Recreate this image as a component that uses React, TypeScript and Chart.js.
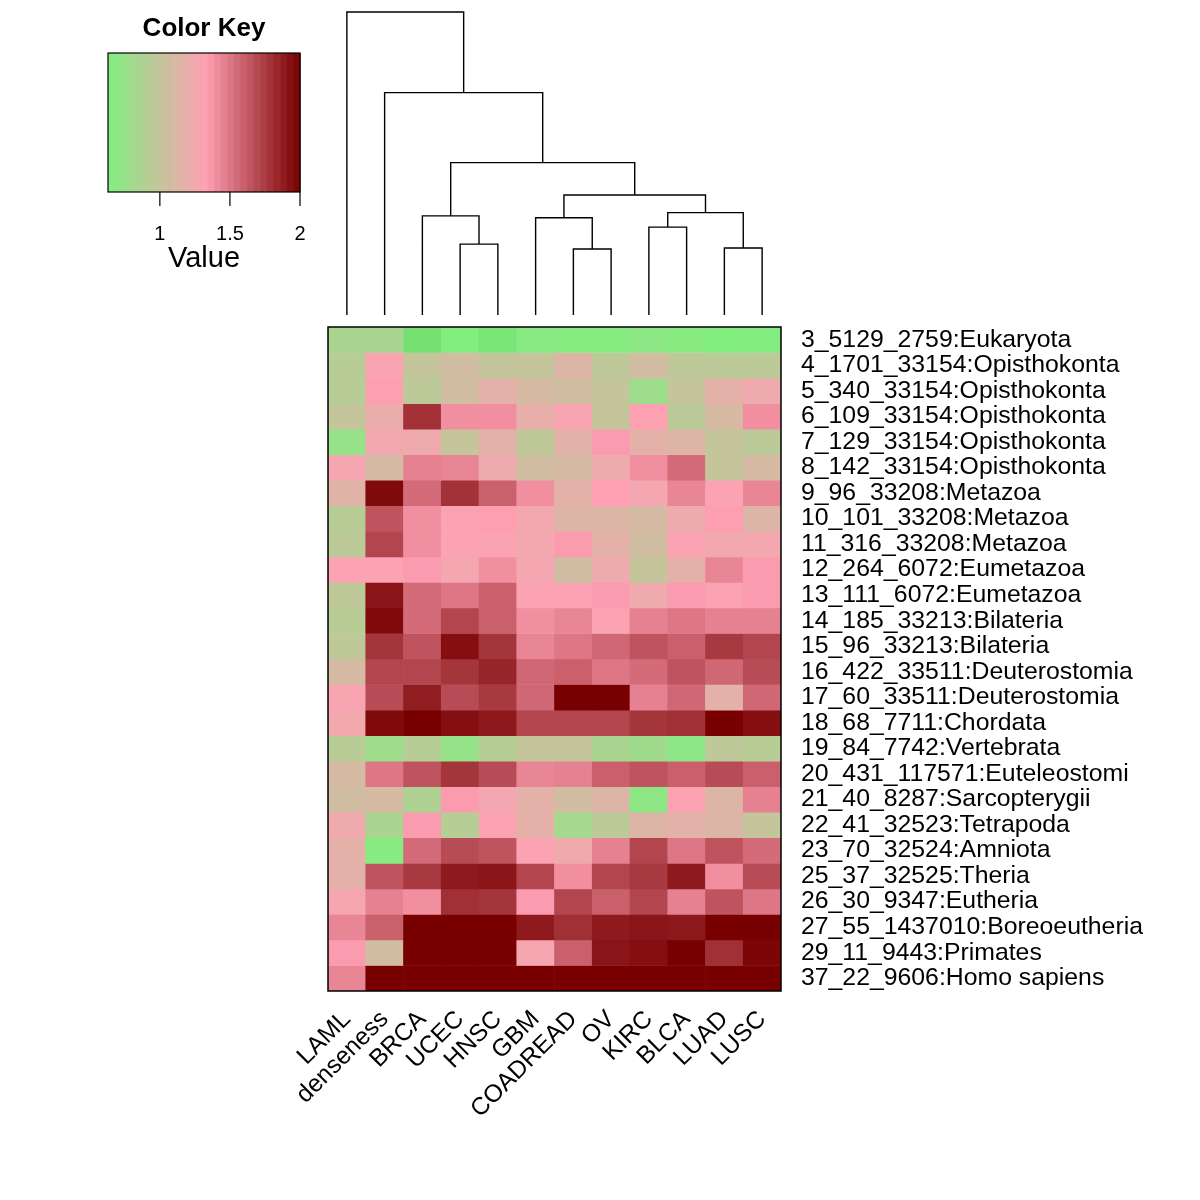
import React, { useEffect, useRef } from "react";
import { Chart, registerables } from "chart.js";

Chart.register(...registerables);

const columns = ["LAML", "denseness", "BRCA", "UCEC", "HNSC", "GBM", "COADREAD", "OV", "KIRC", "BLCA", "LUAD", "LUSC"];

const rowLabels = [
  "3_5129_2759:Eukaryota",
  "4_1701_33154:Opisthokonta",
  "5_340_33154:Opisthokonta",
  "6_109_33154:Opisthokonta",
  "7_129_33154:Opisthokonta",
  "8_142_33154:Opisthokonta",
  "9_96_33208:Metazoa",
  "10_101_33208:Metazoa",
  "11_316_33208:Metazoa",
  "12_264_6072:Eumetazoa",
  "13_111_6072:Eumetazoa",
  "14_185_33213:Bilateria",
  "15_96_33213:Bilateria",
  "16_422_33511:Deuterostomia",
  "17_60_33511:Deuterostomia",
  "18_68_7711:Chordata",
  "19_84_7742:Vertebrata",
  "20_431_117571:Euteleostomi",
  "21_40_8287:Sarcopterygii",
  "22_41_32523:Tetrapoda",
  "23_70_32524:Amniota",
  "25_37_32525:Theria",
  "26_30_9347:Eutheria",
  "27_55_1437010:Boreoeutheria",
  "29_11_9443:Primates",
  "37_22_9606:Homo sapiens",
];

// values per column, one entry per row (top to bottom)
const LAML = [0.85, 0.93, 0.93, 1.0, 0.74, 1.27, 1.15, 0.93, 0.95, 1.31, 0.97, 0.93, 0.97, 1.1, 1.29, 1.25, 0.93, 1.1, 1.07, 1.24, 1.18, 1.18, 1.28, 1.44, 1.35, 1.44];
const denseness = [0.85, 1.3, 1.34, 1.22, 1.26, 1.1, 1.96, 1.65, 1.71, 1.31, 1.91, 1.96, 1.78, 1.71, 1.68, 1.96, 0.78, 1.5, 1.1, 0.85, 0.65, 1.65, 1.46, 1.6, 1.07, 2.0];
const BRCA = [0.58, 1.0, 0.95, 1.79, 1.24, 1.46, 1.55, 1.4, 1.4, 1.35, 1.55, 1.55, 1.65, 1.71, 1.88, 2.0, 0.92, 1.65, 0.88, 1.35, 1.55, 1.76, 1.4, 2.0, 2.0, 2.0];
const UCEC = [0.63, 1.07, 1.07, 1.4, 1.0, 1.44, 1.79, 1.31, 1.31, 1.27, 1.5, 1.71, 1.94, 1.78, 1.68, 1.94, 0.74, 1.78, 1.35, 0.92, 1.68, 1.89, 1.8, 2.0, 2.0, 2.0];
const HNSC = [0.6, 1.0, 1.18, 1.4, 1.18, 1.24, 1.6, 1.34, 1.31, 1.4, 1.6, 1.6, 1.78, 1.85, 1.76, 1.9, 0.92, 1.68, 1.27, 1.31, 1.65, 1.91, 1.78, 2.0, 2.0, 2.0];
const GBM = [0.67, 1.0, 1.1, 1.2, 0.97, 1.07, 1.4, 1.26, 1.26, 1.27, 1.31, 1.4, 1.44, 1.57, 1.57, 1.71, 1.0, 1.44, 1.18, 1.18, 1.31, 1.71, 1.35, 1.89, 1.27, 2.0];
const COADREAD = [0.65, 1.14, 1.07, 1.29, 1.17, 1.1, 1.18, 1.14, 1.35, 1.07, 1.31, 1.44, 1.5, 1.6, 2.0, 1.71, 1.0, 1.46, 1.07, 0.83, 1.24, 1.4, 1.71, 1.8, 1.6, 2.0];
const OV = [0.65, 0.97, 1.0, 1.0, 1.35, 1.24, 1.33, 1.14, 1.18, 1.24, 1.35, 1.31, 1.57, 1.5, 2.0, 1.71, 0.85, 1.6, 1.14, 0.95, 1.46, 1.71, 1.6, 1.89, 1.91, 2.0];
const KIRC = [0.69, 1.07, 0.78, 1.32, 1.18, 1.4, 1.27, 1.1, 1.07, 1.0, 1.24, 1.46, 1.65, 1.55, 1.46, 1.78, 0.8, 1.65, 0.7, 1.14, 1.71, 1.76, 1.71, 1.91, 1.94, 2.0];
const BLCA = [0.66, 0.97, 1.0, 0.95, 1.14, 1.55, 1.44, 1.24, 1.31, 1.18, 1.35, 1.5, 1.6, 1.65, 1.57, 1.8, 0.7, 1.6, 1.31, 1.18, 1.5, 1.89, 1.46, 1.9, 2.0, 2.0];
const LUAD = [0.63, 0.95, 1.18, 1.1, 1.0, 1.0, 1.31, 1.34, 1.26, 1.44, 1.31, 1.46, 1.76, 1.57, 1.18, 2.0, 0.97, 1.68, 1.14, 1.14, 1.65, 1.4, 1.65, 2.0, 1.8, 2.0];
const LUSC = [0.64, 0.95, 1.24, 1.4, 0.95, 1.1, 1.44, 1.14, 1.26, 1.35, 1.35, 1.46, 1.71, 1.68, 1.57, 1.94, 0.93, 1.6, 1.46, 1.0, 1.55, 1.68, 1.5, 2.0, 1.98, 2.0];

const columnValues = [LAML, denseness, BRCA, UCEC, HNSC, GBM, COADREAD, OV, KIRC, BLCA, LUAD, LUSC];

// colour key
const keyMin = 0.63;
const keyMax = 2.0;
const keyTicks = [1, 1.5, 2];
const keyBins = 29;

// column dendrogram: [left, right, height]; numbers = leaf column index, "cN" = merge N
const dendroMerges: [number | string, number | string, number][] = [
  [3, 4, 2.34],
  [6, 7, 2.18],
  [8, 9, 2.9],
  [10, 11, 2.21],
  [2, "c0", 3.27],
  [5, "c1", 3.21],
  ["c2", "c3", 3.38],
  ["c5", "c6", 3.96],
  ["c4", "c7", 5.03],
  [1, "c8", 7.34],
  [0, "c9", 10],
];
const dendroMaxHeight = 10;

const FONT = "'Liberation Sans', Arial, Helvetica, sans-serif";

const colorStops: [number, number[]][] = [
  [0.55, [112, 216, 108]],
  [0.63, [130, 238, 128]],
  [1.33, [255, 160, 180]],
  [2.0, [120, 0, 0]],
];

function valueColor(v: number): string {
  if (v <= colorStops[0][0]) {
    const c = colorStops[0][1];
    return `rgb(${c[0]},${c[1]},${c[2]})`;
  }
  for (let i = 1; i < colorStops.length; i++) {
    const [v1, c1] = colorStops[i];
    const [v0, c0] = colorStops[i - 1];
    if (v <= v1) {
      const t = (v - v0) / (v1 - v0);
      const c = c0.map((a, k) => Math.round(a + (c1[k] - a) * t));
      return `rgb(${c[0]},${c[1]},${c[2]})`;
    }
  }
  const c = colorStops[colorStops.length - 1][1];
  return `rgb(${c[0]},${c[1]},${c[2]})`;
}

const decorPlugin = {
  id: "heatmapDecor",
  afterDraw(chart: any) {
    const ctx = chart.ctx as CanvasRenderingContext2D;
    const area = chart.chartArea;
    const xs = chart.scales.x;
    ctx.save();

    // heatmap border
    ctx.strokeStyle = "#000";
    ctx.lineWidth = 1.5;
    ctx.strokeRect(area.left, area.top, area.right - area.left, area.bottom - area.top);

    // dendrogram
    const base = area.top - 12;
    const topY = 12;
    const hy = (h: number) => base - (h / dendroMaxHeight) * (base - topY);
    const nodes: Record<string, { x: number; h: number }> = {};
    const get = (id: number | string) =>
      typeof id === "number" ? { x: xs.getPixelForValue(id), h: 0 } : nodes[id];
    ctx.lineWidth = 1.4;
    ctx.beginPath();
    dendroMerges.forEach(([a, b, h], i) => {
      const A = get(a);
      const B = get(b);
      const y = hy(h);
      ctx.moveTo(A.x, hy(A.h));
      ctx.lineTo(A.x, y);
      ctx.lineTo(B.x, y);
      ctx.lineTo(B.x, hy(B.h));
      nodes["c" + i] = { x: (A.x + B.x) / 2, h };
    });
    ctx.stroke();

    // colour key
    const kl = 108, kr = 300, kt = 53, kb = 192;
    const kx = (v: number) => kl + ((v - keyMin) / (keyMax - keyMin)) * (kr - kl);
    const step = (keyMax - keyMin) / keyBins;
    for (let i = 0; i < keyBins; i++) {
      const v0 = keyMin + i * step;
      const x0 = kx(v0);
      const x1 = kx(v0 + step);
      ctx.fillStyle = valueColor(v0 + step / 2);
      ctx.fillRect(x0, kt, x1 - x0 + 0.6, kb - kt);
    }
    ctx.strokeStyle = "#000";
    ctx.lineWidth = 1.2;
    ctx.strokeRect(kl, kt, kr - kl, kb - kt);
    ctx.beginPath();
    keyTicks.forEach((t) => {
      ctx.moveTo(kx(t), kb);
      ctx.lineTo(kx(t), kb + 14);
    });
    ctx.stroke();
    ctx.fillStyle = "#000";
    ctx.textAlign = "center";
    ctx.textBaseline = "middle";
    ctx.font = `20px ${FONT}`;
    keyTicks.forEach((t) => ctx.fillText(String(t), kx(t), 234));
    ctx.font = `29px ${FONT}`;
    ctx.fillText("Value", 204, 259);
    ctx.font = `bold 26px ${FONT}`;
    ctx.fillText("Color Key", 204, 29);

    ctx.restore();
  },
};

export default function App() {
  const ref = useRef<HTMLCanvasElement | null>(null);

  useEffect(() => {
    if (!ref.current) return;
    const chart = new Chart(ref.current, {
      type: "bar",
      data: {
        labels: columns,
        datasets: rowLabels.map((r, ri) => ({
          label: r,
          data: columns.map(() => 1),
          backgroundColor: columnValues.map((col) => valueColor(col[ri])),
          borderWidth: 0,
          barPercentage: 1,
          categoryPercentage: 1,
        })),
      },
      options: {
        responsive: false,
        animation: false,
        layout: { padding: { left: 328, top: 327, right: 0, bottom: 0 } },
        plugins: { legend: { display: false }, tooltip: { enabled: false } },
        scales: {
          x: {
            stacked: true,
            grid: { display: false },
            border: { display: false },
            ticks: {
              autoSkip: false,
              minRotation: 45,
              maxRotation: 45,
              color: "#000",
              padding: 6,
              font: { family: FONT, size: 24.5 },
            },
            afterFit(s: any) {
              s.height = 1200 - 991;
            },
          },
          y: {
            stacked: true,
            position: "right",
            reverse: true,
            min: 0,
            max: rowLabels.length,
            grid: { display: false },
            border: { display: false },
            ticks: {
              autoSkip: false,
              color: "#000",
              padding: 12,
              font: { family: FONT, size: 24.8 },
              callback: (_v: any, i: number) => rowLabels[i],
            },
            afterBuildTicks(s: any) {
              s.ticks = rowLabels.map((_, i) => ({ value: i + 0.5 }));
            },
            afterFit(s: any) {
              s.width = 1200 - 781;
            },
          },
        },
      } as any,
      plugins: [decorPlugin],
    });
    return () => chart.destroy();
  }, []);

  return (
    <div style={{ position: "absolute", left: 0, top: 0, width: 1200, height: 1200, background: "#fff" }}>
      <canvas ref={ref} width={1200} height={1200} />
    </div>
  );
}
